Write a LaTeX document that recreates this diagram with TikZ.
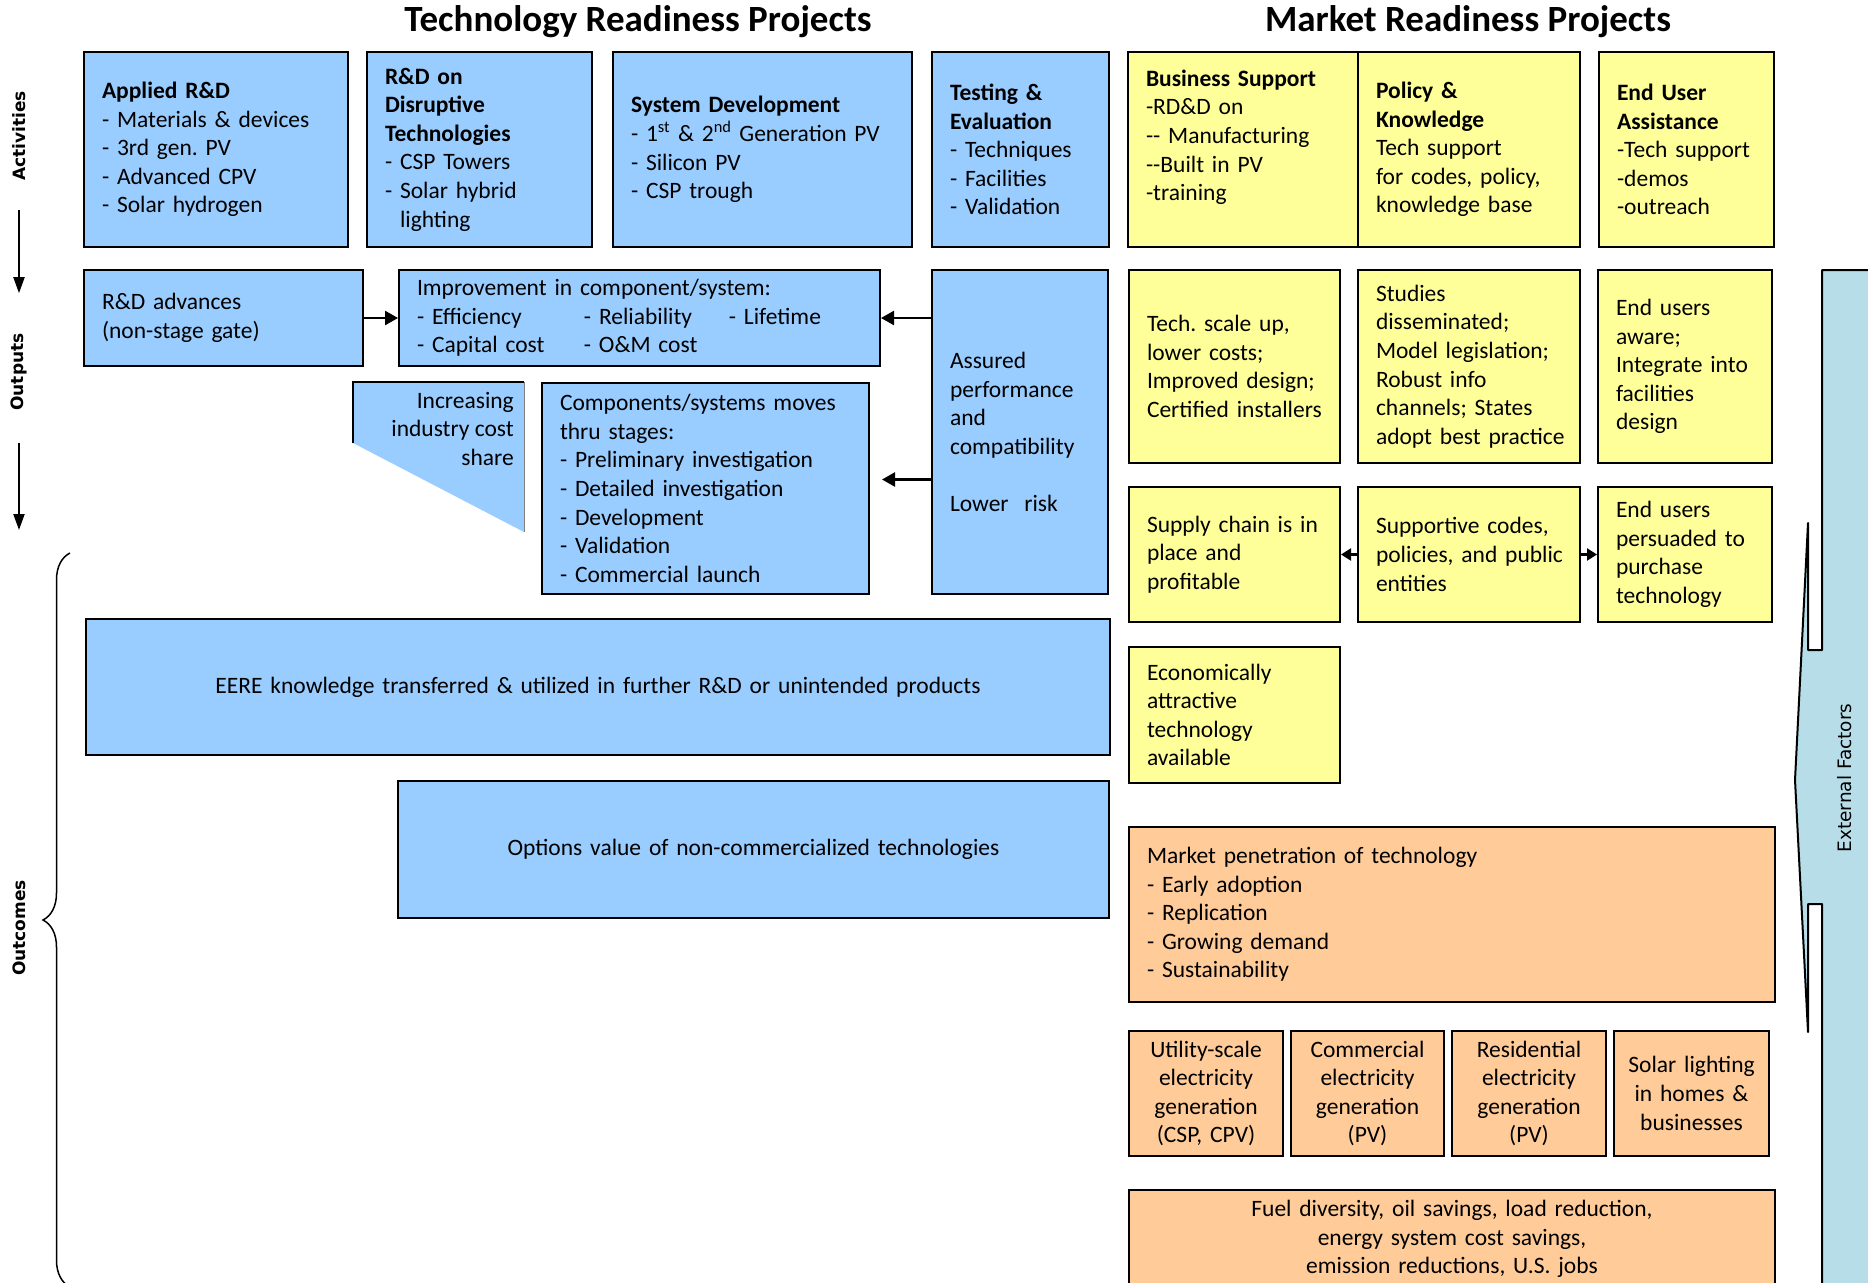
\documentclass[tikz,border=0pt]{standalone}
\usepackage{fontspec}
\setmainfont{Carlito}
\newfontfamily\dejavu{DejaVu Sans}
\usetikzlibrary{arrows.meta,calc,decorations.pathreplacing}

\definecolor{techblue}{HTML}{99CCFF}
\definecolor{mktyellow}{HTML}{FFFF99}
\definecolor{outorange}{HTML}{FFCC99}
\definecolor{extcyan}{HTML}{B7DEE8}

\newcommand{\bodyfont}{\fontsize{23.5}{28.6}\selectfont\frenchspacing\hyphenpenalty=10000 }

\tikzset{
  projbox/.style={draw, line width=2pt, anchor=north west, inner xsep=18pt, inner ysep=0pt, align=left, font=\bodyfont},
  bluebox/.style={projbox, fill=techblue},
  yellowbox/.style={projbox, fill=mktyellow},
  orangebox/.style={projbox, fill=outorange},
  headtext/.style={font=\bfseries\fontsize{37}{44}\selectfont},
  sidelabel/.style={rotate=90, inner sep=0pt, font=\dejavu\bfseries\fontsize{17}{20}\selectfont},
  bigarrow/.style={line width=2.5pt, -{Triangle[length=13pt,width=14pt]}},
  smallarrow/.style={line width=2.2pt, -{Triangle[length=10pt,width=12pt]}},
  downarrow/.style={line width=2pt, -{Triangle[length=16pt,width=11pt]}}
}

\begin{document}
\begin{tikzpicture}[x=1pt,y=-1pt]
\useasboundingbox (0,0) rectangle (1868,1282);
\clip (0,0) rectangle (1868,1282);

% headings
\node[headtext] (techhead) at (638,22) {Technology Readiness Projects};
\node[headtext] (markethead) at (1468,22) {Market Readiness Projects};

% left column
\node[sidelabel] (act) at (19,136) {Activities};
\node[sidelabel] (outp) at (19,372) {Outputs};
\node[sidelabel] (outc) at (19,928) {Outcomes};
\coordinate (outend) at (19,530);
\draw[downarrow, shorten <=29pt, shorten >=40pt] (act.west) -- (outp.east);
\draw[downarrow, shorten <=32pt] (outp.west) -- (outend);
\draw[line width=1.5pt, decorate, decoration={brace, amplitude=27pt}] (70,1287) -- (70,553);

% external factors
\draw[line width=2pt, line join=round, fill=extcyan] (1822,270) -- (1880,270) -- (1880,1300) -- (1822,1300)
  -- (1822,904) -- (1808,904) -- (1808,1032) -- (1795,780) -- (1808,523) -- (1808,650) -- (1822,650) -- cycle;
\node[font=\dejavu\fontsize{18.5}{22}\selectfont, rotate=90] (extf) at (1845,778) {External Factors};

% activities
\node[bluebox, text width=228pt, minimum height=195pt] (applied) at (83,51)
  {\textbf{Applied R\&D}\\- Materials \& devices\\- 3rd gen. PV\\- Advanced CPV\\- Solar hydrogen};
\node[bluebox, text width=189pt, minimum height=195pt] (disrupt) at (366,51)
  {\textbf{R\&D on}\\\textbf{Disruptive}\\\textbf{Technologies}\\- CSP Towers\\- Solar hybrid\\\hphantom{-~}lighting};
\node[bluebox, text width=263pt, minimum height=195pt] (sysdev) at (612,51)
  {\textbf{System Development}\\- 1\textsuperscript{st} \& 2\textsuperscript{nd} Generation PV\\- Silicon PV\\- CSP trough};
\node[bluebox, text width=141pt, minimum height=195pt] (testing) at (931,51)
  {\textbf{Testing \&}\\\textbf{Evaluation}\\- Techniques\\- Facilities\\- Validation};
\node[yellowbox, text width=194pt, minimum height=195pt] (business) at (1127,51)
  {\textbf{Business Support}\\-RD\&D on\\-{}- Manufacturing\\-{}-Built in PV\\-training\\\mbox{}};
\node[yellowbox, text width=186pt, minimum height=195pt] (policy) at (1357,51)
  {\textbf{Policy \&}\\\textbf{Knowledge}\\Tech support\\for codes, policy,\\knowledge base};
\node[yellowbox, text width=139pt, minimum height=195pt] (enduser) at (1598,51)
  {\textbf{End User}\\\textbf{Assistance}\\-Tech support\\-demos\\-outreach};

% outputs
\node[bluebox, text width=243pt, minimum height=96pt] (rdadv) at (83,269)
  {R\&D advances\\(non-stage gate)};
\node[bluebox, text width=445pt, minimum height=96pt] (improve) at (398,269)
  {Improvement in component/system:\\\makebox[167pt][l]{- Efficiency}\makebox[145pt][l]{- Reliability}- Lifetime\\\makebox[167pt][l]{- Capital cost}- O\&M cost};
\node[bluebox, text width=140pt, minimum height=324pt] (assured) at (931,269)
  {Assured\\performance\\and\\compatibility\\[28.6pt]Lower~ risk};
\fill[techblue] (353,382) -- (524,382) -- (524,532) -- (353,443) -- cycle;
\draw[line width=2pt] (353,443) -- (353,382) -- (524,382);
\draw[line width=1pt, gray] (524,382) -- (524,532);
\node[font=\bodyfont, align=right, anchor=north east, inner sep=0pt] (costshare) at (514,392)
  {Increasing\\industry cost\\share};
\node[bluebox, text width=291pt, minimum height=211pt] (comp) at (541,382)
  {Components/systems moves\\thru stages:\\- Preliminary investigation\\- Detailed investigation\\- Development\\- Validation\\- Commercial launch};

\node[yellowbox, text width=175pt, minimum height=193pt] (techscale) at (1128,269)
  {Tech. scale up,\\lower costs;\\Improved design;\\\mbox{Certified installers}};
\node[yellowbox, text width=186pt, minimum height=193pt] (studies) at (1357,269)
  {Studies\\disseminated;\\\mbox{Model legislation;}\\Robust info\\channels; States\\\mbox{adopt best practice}};
\node[yellowbox, text width=138pt, minimum height=193pt] (aware) at (1597,269)
  {End users\\aware;\\\mbox{Integrate into}\\facilities\\design};
\node[yellowbox, text width=175pt, minimum height=135pt] (supply) at (1128,486)
  {\mbox{Supply chain is in}\\place and\\profitable};
\node[yellowbox, text width=186pt, minimum height=135pt] (supportive) at (1357,486)
  {Supportive codes,\\\mbox{policies, and public}\\entities};
\node[yellowbox, text width=138pt, minimum height=135pt] (persuaded) at (1597,486)
  {End users\\persuaded to\\purchase\\technology};
\node[yellowbox, text width=175pt, minimum height=136pt] (econ) at (1128,646)
  {Economically\\attractive\\technology\\available};

% outcomes
\node[bluebox, align=center, text width=988pt, minimum height=136pt] (eere) at (85,618)
  {EERE knowledge transferred \& utilized in further R\&D or unintended products};
\node[bluebox, align=center, text width=675pt, minimum height=137pt] (options) at (397,780)
  {Options value of non-commercialized technologies};
\node[orangebox, text width=610pt, minimum height=175pt] (market) at (1128,826)
  {Market penetration of technology\\- Early adoption\\- Replication\\- Growing demand\\- Sustainability};
\node[orangebox, align=center, inner xsep=6pt, text width=142pt, minimum height=125pt] (utility) at (1128,1030)
  {Utility-scale\\electricity\\generation\\(CSP, CPV)};
\node[orangebox, align=center, inner xsep=6pt, text width=141pt, minimum height=125pt] (commercial) at (1290,1030)
  {Commercial\\electricity\\generation\\(PV)};
\node[orangebox, align=center, inner xsep=6pt, text width=142pt, minimum height=125pt] (residential) at (1451,1030)
  {Residential\\electricity\\generation\\(PV)};
\node[orangebox, align=center, inner xsep=6pt, text width=143pt, minimum height=125pt] (lighting) at (1613,1030)
  {Solar lighting\\in homes \&\\businesses};
\node[orangebox, align=center, text width=610pt, minimum height=98pt] (fuel) at (1128,1189)
  {Fuel diversity, oil savings, load reduction,\\energy system cost savings,\\emission reductions, U.S. jobs};

% connectors
\draw[bigarrow] (rdadv) -- (improve);
\draw[bigarrow] (assured.west |- improve.east) -- (improve.east);
\draw[bigarrow] ($(assured.west |- comp.east)+(0,-9)$) -- ($(comp.east)+(12,-9)$);
\draw[smallarrow] (supportive) -- (supply);
\draw[smallarrow] (supportive) -- (persuaded);
\end{tikzpicture}
\end{document}
